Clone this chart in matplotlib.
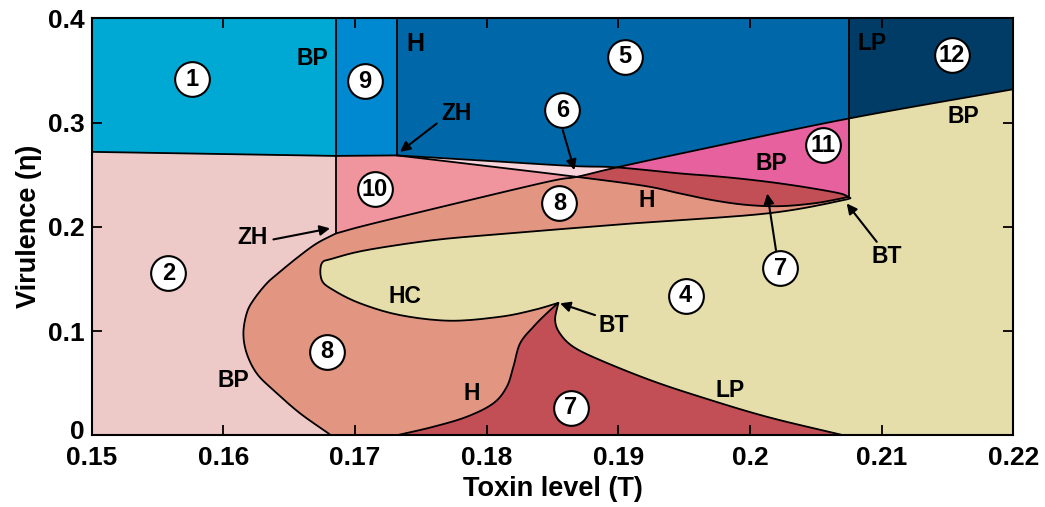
import numpy as np
import matplotlib
matplotlib.use("Agg")
import matplotlib.pyplot as plt
import matplotlib.transforms as mtransforms

plt.rcParams["font.family"] = ["Liberation Sans", "DejaVu Sans"]
plt.rcParams["font.weight"] = "bold"

# ---------------------------------------------------------------
# Bifurcation curves (x = toxin level T, y = virulence eta)
# ---------------------------------------------------------------
X0, X1, Y0, Y1 = 0.15, 0.22, 0.0, 0.4

ZH1 = (0.16857, 0.1937)        # lower zero-Hopf point
ZH2 = (0.17318, 0.2685)        # upper zero-Hopf point
BT2 = (0.20746, 0.2288)        # upper Bogdanov-Takens point
X_BP_VERT = 0.20750            # vertical LP/BP line
X_LP_END = 0.20710

# boundary between regions 1|2 and 9|10
top_x = [0.15, 0.16857, 0.17318]
top_y = [0.2719, 0.2680, 0.2685]

# rising BP line, ZH1 -> right edge
bp_x = [0.16857, 0.1719, 0.18406, 0.18684, 0.18988, 0.1962, 0.20750, 0.22]
bp_y = [0.1937, 0.2048, 0.2416, 0.2479, 0.2570, 0.2742, 0.3039, 0.3320]

# upper branch from ZH2 to BT2 (bottom of 5, top of upper 7)
d_x = [0.17318, 0.1800, 0.18658, 0.18988, 0.19468, 0.19719, 0.19977, 0.20228, 0.20478, 0.20683, 0.20746]
d_y = [0.2685, 0.2633, 0.2583, 0.2570, 0.2512, 0.2487, 0.2455, 0.2416, 0.2368, 0.2320, 0.2288]

# Hopf curve from ZH2 to BT2
h_x = [0.17318, 0.1800, 0.18684, 0.1920, 0.19468, 0.19719, 0.19975, 0.20228, 0.20478, 0.20658, 0.20746]
h_y = [0.2685, 0.2583, 0.2479, 0.2392, 0.2320, 0.2255, 0.2210, 0.2198, 0.2224, 0.2263, 0.2288]

# homoclinic tongue: BT2 -> tip -> BT1
hc_x = [0.20746, 0.20708, 0.20127, 0.19114, 0.18102, 0.17595, 0.17090, 0.16836, 0.16748,
        0.16748, 0.16836, 0.17039, 0.17342, 0.17722, 0.18102, 0.18355, 0.18544]
hc_y = [0.2288, 0.2256, 0.2128, 0.2033, 0.1930, 0.1872, 0.1777, 0.1697, 0.1649,
        0.1489, 0.1393, 0.1266, 0.1153, 0.1099, 0.1137, 0.1201, 0.1270]

# lower Hopf curve: axis -> BT1
hl_x = [0.17317, 0.17595, 0.17849, 0.18051, 0.18153, 0.18203, 0.18254, 0.18355, 0.18456, 0.18544]
hl_y = [0.0, 0.0082, 0.0178, 0.0307, 0.0466, 0.0658, 0.0882, 0.1041, 0.1170, 0.1270]

# limit point curve: BT1 -> axis
lp_x = [0.18544, 0.18520, 0.18556, 0.18658, 0.18861, 0.19241, 0.19620, 0.20127, 0.20710]
lp_y = [0.1270, 0.1105, 0.0978, 0.0849, 0.0722, 0.0530, 0.0370, 0.0178, 0.0]

# C-shaped BP curve: ZH1 -> axis
bpc_x = [0.16857, 0.16710, 0.16570, 0.16431, 0.16330, 0.16229, 0.16178, 0.16153, 0.16178,
         0.16254, 0.16380, 0.16583, 0.16798, 0.16810]
bpc_y = [0.1937, 0.1841, 0.1712, 0.1569, 0.1457, 0.1297, 0.1170, 0.0978, 0.0786,
         0.0594, 0.0434, 0.0211, 0.0019, 0.0]

# region colours
colors = {
    1: "#00a9d4", 2: "#edc9c8", 4: "#e5ddaa", 5: "#0068a9", 6: "#f9d3da",
    7: "#c14f55", 8: "#e29682", 9: "#0089d0", 10: "#f0959e", 11: "#e8619f",
    12: "#003c66",
}

# circled region numbers
region_ids = ["1", "9", "5", "12", "6", "11", "10", "8", "2", "4", "7", "8", "7"]
region_x = [0.15761, 0.17077, 0.19051, 0.21531, 0.18575, 0.20557, 0.17153, 0.18552, 0.15583, 0.19510, 0.20228, 0.16786, 0.18641]
region_y = [0.3413, 0.3397, 0.3630, 0.3646, 0.3119, 0.2783, 0.2359, 0.2224, 0.1553, 0.1340, 0.1604, 0.0802, 0.0262]

# curve names
curve_text = ["BP", "H", "ZH", "LP", "BP", "BP", "H", "ZH", "HC", "BT", "BT", "BP", "H", "LP"]
curve_x = [0.16680, 0.17456, 0.17768, 0.20924, 0.21620, 0.20165, 0.19216, 0.16224, 0.17380, 0.18962, 0.21038, 0.16077, 0.17887, 0.19848]
curve_y = [0.3615, 0.3758, 0.3087, 0.3758, 0.3061, 0.2608, 0.2256, 0.1895, 0.1329, 0.1058, 0.1712, 0.0530, 0.0403, 0.0434]

# arrows (tail -> head)
arrow_tail = [(0.17621, 0.2991), (0.18578, 0.2927), (0.16381, 0.1879), (0.18823, 0.1153), (0.20197, 0.1776), (0.20962, 0.1856)]
arrow_head = [(0.17342, 0.2719), (0.18666, 0.2544), (0.16811, 0.1985), (0.18557, 0.1266), (0.20131, 0.2320), (0.20734, 0.2224)]

x_ticks = [0.15, 0.16, 0.17, 0.18, 0.19, 0.20, 0.21, 0.22]
x_ticklabels = ["0.15", "0.16", "0.17", "0.18", "0.19", "0.2", "0.21", "0.22"]
y_ticks = [0, 0.1, 0.2, 0.3, 0.4]
y_ticklabels = ["0", "0.1", "0.2", "0.3", "0.4"]

N_SUB = 10  # sub-steps per read segment when drawing curves smoothly


def smooth(xs, ys, n=N_SUB):
    """Catmull-Rom through the read points; read point k -> index k*n."""
    p = np.column_stack([xs, ys]).astype(float)
    p = np.vstack([2 * p[0] - p[1], p, 2 * p[-1] - p[-2]])
    out = []
    t = np.linspace(0, 1, n, endpoint=False)[:, None]
    for i in range(1, len(p) - 2):
        p0, p1, p2, p3 = p[i - 1], p[i], p[i + 1], p[i + 2]
        out.append(0.5 * (2 * p1 + (-p0 + p2) * t + (2 * p0 - 5 * p1 + 4 * p2 - p3) * t ** 2
                          + (-p0 + 3 * p1 - 3 * p2 + p3) * t ** 3))
    out.append(p[-2][None, :])
    return np.vstack(out)


BP = smooth(bp_x, bp_y)
D = smooth(d_x, d_y)
H = smooth(h_x, h_y)
HC = smooth(hc_x, hc_y)
HL = smooth(hl_x, hl_y)
LP = smooth(lp_x, lp_y)
BPC = smooth(bpc_x, bpc_y)


def seg(curve, k0=0, k1=None, rev=False):
    """Part of a smoothed curve between read points k0 and k1 (inclusive)."""
    i1 = None if k1 is None else k1 * N_SUB + 1
    pts = [tuple(q) for q in curve[k0 * N_SUB:i1]]
    return pts[::-1] if rev else pts


def fill(ax, pts, key):
    xs, ys = zip(*pts)
    ax.fill(xs, ys, color=colors[key], lw=0.6, zorder=1)


fig = plt.figure(figsize=(10.45, 5.07), dpi=100)
ax = fig.add_axes([0.0876, 0.1414, 0.8822, 0.8225])
ax.set_facecolor(colors[2])
ax.set_xlim(X0, X1)
ax.set_ylim(Y0, Y1)

# --- top blue regions
fill(ax, [(X0, Y1), (X0, top_y[0]), (top_x[1], top_y[1]), (top_x[1], Y1)], 1)
fill(ax, [(top_x[1], Y1), (top_x[1], top_y[1]), (top_x[2], top_y[2]), (top_x[2], Y1)], 9)
fill(ax, [(ZH2[0], Y1)] + seg(D, 0, 3) + seg(BP, 4, 6) + [(X_BP_VERT, Y1)], 5)
fill(ax, [(X_BP_VERT, Y1)] + seg(BP, 6, 7) + [(X1, Y1)], 12)

# --- region 4 (khaki)
reg4 = ([BT2, (X_BP_VERT, bp_y[6])] + seg(BP, 6, 7) + [(X1, Y0), (X_LP_END, Y0)]
        + seg(LP, rev=True) + seg(HC, rev=True))
fill(ax, reg4, 4)

# --- region 8 (salmon)
reg8 = (seg(BP, 0, 3) + seg(H, 2) + seg(HC) + seg(HL, rev=True) + seg(BPC, rev=True))
fill(ax, reg8, 8)

# --- lower region 7
fill(ax, seg(HL) + seg(LP), 7)

# --- region 10
fill(ax, [ZH1, (top_x[1], top_y[1])] + seg(H, 0, 2) + seg(BP, 0, 3, rev=True), 10)

# --- region 6
fill(ax, seg(D, 0, 3) + seg(BP, 3, 4, rev=True) + seg(H, 0, 2, rev=True), 6)

# --- region 11
fill(ax, seg(BP, 4, 6) + [BT2] + seg(D, 3, rev=True), 11)

# --- upper region 7
fill(ax, seg(BP, 3, 4) + seg(D, 3) + seg(H, 2, rev=True), 7)

# --- boundary lines
lw = 1.3
line_kw = dict(color="black", lw=lw, zorder=3, solid_capstyle="round", solid_joinstyle="round")
ax.plot(top_x, top_y, **line_kw)
ax.plot([ZH1[0], ZH1[0]], [ZH1[1], Y1], **line_kw)
ax.plot([ZH2[0], ZH2[0]], [ZH2[1], Y1], **line_kw)
ax.plot([X_BP_VERT, X_BP_VERT], [BT2[1], Y1], **line_kw)
for c in [BP, D, H, HC, HL, LP, BPC]:
    ax.plot(c[:, 0], c[:, 1], **line_kw)

# --- arrows
for tail, head in zip(arrow_tail, arrow_head):
    ax.annotate("", xy=head, xytext=tail, zorder=5,
                arrowprops=dict(arrowstyle="-|>", color="black", lw=1.5,
                                mutation_scale=15, shrinkA=0, shrinkB=0))

# --- circled numbers
for rid, rx, ry in zip(region_ids, region_x, region_y):
    ax.plot(rx, ry, "o", ms=25, mfc="white", mec="black", mew=1.5, zorder=6)
    if len(rid) == 1:
        ax.text(rx, ry, rid, ha="center", va="center", fontsize=17,
                fontweight="bold", zorder=7)
    else:
        ax.text(rx, ry, rid, ha="center", va="center", fontsize=17,
                family=["Liberation Sans Narrow", "Liberation Sans"],
                fontweight="bold", zorder=7)

# --- curve names
for txt, tx, ty in zip(curve_text, curve_x, curve_y):
    fs = 18 if (txt == "H" and ty > 0.37) else 16.5
    ax.text(tx, ty, txt, ha="center", va="center", fontsize=fs, fontweight="bold", zorder=7)

ax.set_xticks(x_ticks)
ax.set_xticklabels(x_ticklabels)
ax.set_yticks(y_ticks)
ax.set_yticklabels(y_ticklabels)
ax.tick_params(direction="in", length=7, width=1.3, top=True, right=True, labelsize=19)
ax.tick_params(axis="x", pad=8)
ax.tick_params(axis="y", pad=5)
for lab in ax.get_xticklabels() + ax.get_yticklabels():
    lab.set_fontweight("bold")
# the "0" on the y axis sits a little above the corner
zero_lab = ax.get_yticklabels()[0]
zero_lab.set_transform(zero_lab.get_transform()
                       + mtransforms.ScaledTranslation(0, 4 / 72, fig.dpi_scale_trans))
for sp in ax.spines.values():
    sp.set_linewidth(1.5)
    sp.set_zorder(10)

ax.set_xlabel("Toxin level (T)", fontsize=19.5, fontweight="bold", labelpad=4)
ax.set_ylabel("Virulence (η)", fontsize=19.5, fontweight="bold", labelpad=4)

fig.savefig("out.png", dpi=100)
